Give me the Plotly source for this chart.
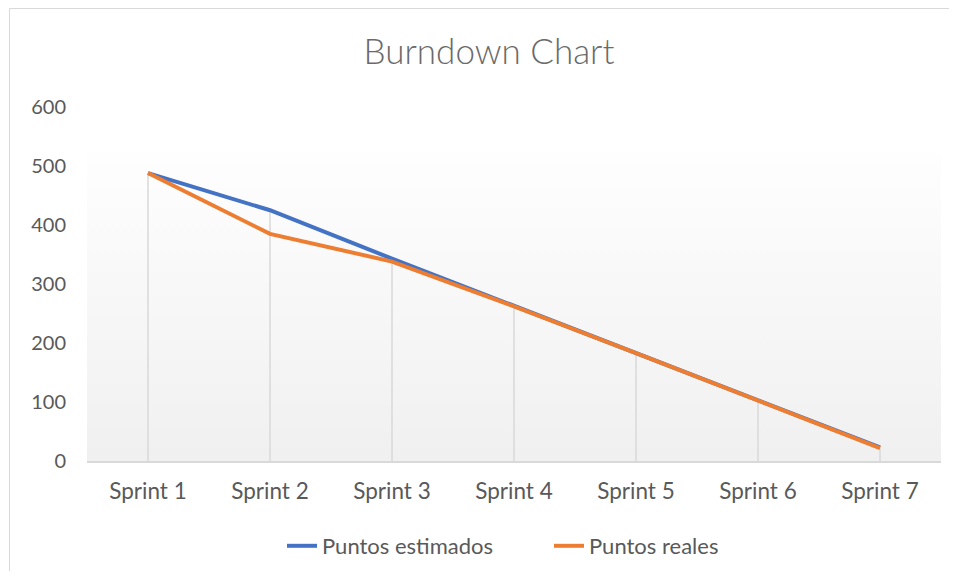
import plotly.graph_objects as go

categories = ["Sprint 1", "Sprint 2", "Sprint 3", "Sprint 4", "Sprint 5", "Sprint 6", "Sprint 7"]
puntos_estimados = [488, 425, 343, 263, 183, 103, 23]
puntos_reales = [488, 385, 338, 262, 183, 102, 22]
background_level = [522, 522]
y_ticks = [0, 100, 200, 300, 400, 500, 600]

xi = list(range(len(categories)))
GRAY_TXT = "#595959"
FONT = "Lato"

# page body has an 8px margin: the figure starts at (8, 8)
OFF = 8
W, H = 957 - 2 * OFF, 579 - 2 * OFF
PL, PR, PT, PB = 87, 941, 107, 461  # plot area in window pixels

fig = go.Figure()

# gradient background area
fig.add_trace(go.Scatter(
    x=[-0.5, len(categories) - 0.5], y=background_level,
    mode="lines", line=dict(width=0, color="rgba(0,0,0,0)"),
    fill="tozeroy",
    fillgradient=dict(type="vertical", colorscale=[[0, "#f0f0f0"], [1, "#fefefe"]],
                      start=0, stop=background_level[0]),
    showlegend=False, hoverinfo="skip"))

# drop lines
dx, dy = [], []
for i, (a, b) in enumerate(zip(puntos_estimados, puntos_reales)):
    dx += [i, i, None]
    dy += [0, max(a, b), None]
fig.add_trace(go.Scatter(x=dx, y=dy, mode="lines",
                         line=dict(color="#d9d9d9", width=1.5),
                         showlegend=False, hoverinfo="skip"))

fig.add_trace(go.Scatter(x=xi, y=puntos_estimados, mode="lines", name="Puntos estimados",
                         line=dict(color="#4472C4", width=4)))
fig.add_trace(go.Scatter(x=xi, y=puntos_reales, mode="lines", name="Puntos reales",
                         line=dict(color="#ED7D31", width=4)))

pw, ph = PR - PL, PB - PT
# chart border (partially visible)
fig.add_shape(type="rect", xref="paper", yref="paper",
              x0=(9.5 - PL) / pw, x1=1.3, y0=-0.6, y1=(PB - 8.5) / ph,
              line=dict(color="#d9d9d9", width=1), fillcolor="rgba(0,0,0,0)", layer="below")

fig.update_layout(
    width=W, height=H,
    margin=dict(l=PL - OFF, r=OFF + W - PR, t=PT - OFF, b=OFF + H - PB, autoexpand=False),
    paper_bgcolor="white", plot_bgcolor="white",
    font=dict(family=FONT, color=GRAY_TXT, size=20),
    title=dict(text="Burndown Chart", x=(489 - OFF) / W, xref="container", xanchor="center",
               y=1 - (52 - OFF) / H, yref="container", yanchor="middle",
               font=dict(family=FONT, size=35, color="#6a6a6a", weight=300)),
    xaxis=dict(range=[-0.5, len(categories) - 0.5], tickvals=xi, ticktext=categories,
               showgrid=False, zeroline=False, showline=True, linecolor="#d9d9d9", linewidth=1.5,
               ticks="", ticklabelstandoff=9, tickfont=dict(size=22.5, color=GRAY_TXT)),
    yaxis=dict(range=[0, 600], tickvals=y_ticks, showgrid=False, zeroline=False,
               showline=False, ticks="", ticklabelstandoff=20,
               tickfont=dict(size=20, color=GRAY_TXT)),
    legend=dict(orientation="h", xref="container", x=(282 - OFF) / W, xanchor="left",
                yref="container", y=1 - (546 - OFF) / H,
                yanchor="middle", font=dict(size=22, color=GRAY_TXT), bgcolor="rgba(0,0,0,0)",
                entrywidth=222, entrywidthmode="pixels", traceorder="normal"),
    showlegend=True,
)

fig.write_html("out.html")
